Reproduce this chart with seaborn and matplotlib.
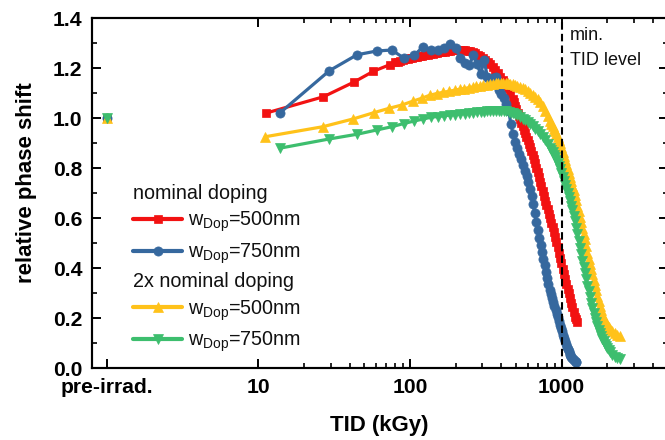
import matplotlib
matplotlib.use("Agg")
import matplotlib.pyplot as plt
import seaborn as sns
from matplotlib.lines import Line2D
from matplotlib.ticker import FixedLocator, NullFormatter

# ---------------------------------------------------------------- data
# relative phase shift vs. total ionising dose (kGy); pre-irradiation value at x = 1
pre_x = 1.0
pre_y = 1.0

# nominal doping, w_Dop = 500 nm
nom500_x = [11.3, 26.9, 42.5, 57.5, 73.5,
            80, 83, 86, 90, 93, 97, 100, 104, 108, 112, 117, 121, 126, 131, 136,
            141, 147, 152, 158, 164, 171, 177, 184, 191, 199, 207, 215, 223, 232,
            241, 250, 260, 270, 280, 291, 302, 314, 326, 338, 351, 365, 379, 394,
            409, 425, 441, 458,
            476, 485, 494, 503, 513, 523, 533, 543, 554, 564, 575, 586, 597, 608,
            620, 632, 644, 656, 669, 682, 695, 708, 722, 736, 750, 764, 779, 794,
            809, 824, 840, 856, 872, 889, 906, 923, 941, 959, 977, 996, 1015, 1034,
            1054, 1074, 1095, 1116, 1137, 1159, 1181, 1204, 1227, 1245, 1262]
nom500_y = [1.020, 1.085, 1.143, 1.187, 1.213,
            1.223, 1.226, 1.230, 1.232, 1.235, 1.238, 1.240, 1.242, 1.244, 1.246,
            1.248, 1.250, 1.252, 1.254, 1.256, 1.258, 1.259, 1.261, 1.263, 1.265,
            1.266, 1.268, 1.269, 1.271, 1.272, 1.273, 1.273, 1.273, 1.272, 1.270,
            1.267, 1.264, 1.260, 1.254, 1.248, 1.241, 1.234, 1.226, 1.217, 1.205,
            1.192, 1.179, 1.165, 1.152, 1.138, 1.120, 1.100,
            1.076, 1.063, 1.050, 1.036, 1.022, 1.008, 0.995, 0.981, 0.967, 0.953,
            0.940, 0.926, 0.912, 0.898, 0.884, 0.869, 0.853, 0.837, 0.820, 0.802,
            0.783, 0.764, 0.745, 0.727, 0.708, 0.689, 0.670, 0.652, 0.635, 0.618,
            0.600, 0.582, 0.563, 0.544, 0.525, 0.504, 0.483, 0.461, 0.440, 0.419,
            0.398, 0.376, 0.355, 0.336, 0.318, 0.299, 0.280, 0.261, 0.243, 0.224,
            0.205, 0.195, 0.185]

# nominal doping, w_Dop = 750 nm
nom750_x = [13.8, 29.4, 44.8, 60.5, 76,
            91.5, 107, 122.5, 138, 153.5, 169, 184.5, 200, 215.5, 231, 246.5, 262,
            277.5, 293, 308.5, 324, 339.5, 355, 370.5, 386, 401.5, 417, 432.5, 448,
            463.5, 479, 494.5, 510, 525.5, 541, 556.5, 572, 587.5, 603, 618.5, 634,
            649.5, 665, 680.5, 696, 711.5, 727, 742.5, 758, 773.5, 789, 804.5, 820,
            835.5, 851, 866.5, 882, 897.5, 913, 928.5, 944, 959.5, 975, 990.5, 1006,
            1021.5, 1037, 1052.5, 1068, 1083.5, 1099, 1114.5, 1130, 1145.5, 1161,
            1176.5, 1192, 1207.5, 1223, 1238.5, 1254]
nom750_y = [1.019, 1.189, 1.253, 1.268, 1.272,
            1.239, 1.252, 1.285, 1.272, 1.272, 1.282, 1.297, 1.279, 1.240, 1.222,
            1.212, 1.252, 1.215, 1.175, 1.232, 1.165, 1.150, 1.160, 1.165, 1.112,
            1.095, 1.080, 1.055, 1.030,
            0.975, 0.935, 0.905, 0.880, 0.858, 0.835, 0.812, 0.790, 0.768, 0.745,
            0.718, 0.690, 0.655, 0.620, 0.585, 0.553, 0.522, 0.494, 0.466, 0.438,
            0.412, 0.386, 0.360, 0.335, 0.312, 0.295, 0.280, 0.265, 0.248, 0.233,
            0.218, 0.203, 0.188, 0.174, 0.160, 0.147, 0.133, 0.120, 0.108, 0.097,
            0.086, 0.076, 0.067, 0.058, 0.051, 0.045, 0.040, 0.036, 0.032, 0.029,
            0.026, 0.024]

# 2x nominal doping, w_Dop = 500 nm
dbl500_x = [11.1, 26.6, 42.1, 57.6, 73.1, 88.6, 104.1, 119.6, 135.1, 150.6, 166.1,
            181.6, 197.1, 212.6, 228.1, 243.6, 259.1, 274.6, 290.1, 305.6, 321.1,
            336.6, 352.1, 367.6, 383.1, 398.6, 414.1, 429.6, 445.1, 460.6, 476.1,
            491.6, 507.1,
            533, 554, 575, 597, 620, 644, 669, 695, 722, 750, 779, 809,
            840, 856, 872, 889, 906, 923, 941, 959, 977, 996, 1015, 1034, 1054,
            1074, 1095, 1116, 1137, 1159, 1181, 1204, 1227, 1250, 1274, 1298, 1323,
            1348, 1374, 1400, 1427, 1454, 1482, 1510, 1539, 1569, 1599, 1630, 1661,
            1693, 1725, 1758, 1792, 1826, 1861, 1897, 1933, 1970, 2008, 2046, 2085,
            2166, 2250, 2337, 2430]
dbl500_y = [0.925, 0.965, 0.996, 1.021, 1.039,
            1.052, 1.067, 1.079, 1.091, 1.098, 1.103, 1.107, 1.111, 1.115, 1.118,
            1.121, 1.124, 1.127, 1.129, 1.131, 1.133, 1.135, 1.137, 1.139, 1.140,
            1.141, 1.142, 1.141, 1.140, 1.138, 1.136, 1.133, 1.130,
            1.125, 1.120, 1.115, 1.109, 1.101, 1.093, 1.084, 1.075, 1.066, 1.050,
            1.030, 1.010,
            0.988, 0.978, 0.968, 0.958, 0.948, 0.937, 0.925, 0.912, 0.899, 0.883,
            0.866, 0.849, 0.832, 0.815, 0.798, 0.782, 0.765, 0.748, 0.730, 0.711,
            0.692, 0.671, 0.650, 0.628, 0.605, 0.583, 0.560, 0.538, 0.515, 0.489,
            0.462, 0.438, 0.415, 0.395, 0.375, 0.353, 0.332, 0.311, 0.290, 0.270,
            0.250, 0.231, 0.213, 0.201, 0.190, 0.180, 0.170, 0.163, 0.156,
            0.148, 0.140, 0.134, 0.128]

# 2x nominal doping, w_Dop = 750 nm
dbl750_x = [13.8, 29.3, 44.8, 60.3, 75.8, 91.3, 106.8, 122.3, 137.8, 153.3, 168.8,
            184.3, 199.8, 215.3, 230.8, 246.3, 261.8, 277.3, 292.8, 308.3, 323.8,
            339.3, 354.8, 370.3, 385.8, 401.3, 416.8, 432.3, 447.8, 463.3, 478.8,
            494.3, 509.8,
            533, 554, 575, 597, 620, 644, 669, 695, 722, 750, 779, 809,
            840, 856, 872, 889, 906, 923, 941, 959, 977, 996, 1015, 1034, 1054,
            1074, 1095, 1116, 1137, 1159, 1181, 1204, 1227, 1250, 1274, 1298, 1323,
            1348, 1374, 1400, 1427, 1454, 1482, 1510, 1539, 1569, 1599, 1630, 1661,
            1693, 1725, 1758, 1792, 1826, 1861, 1897, 1933, 1970, 2008, 2046, 2085,
            2166, 2250, 2337, 2430]
dbl750_y = [0.879, 0.916, 0.935, 0.952, 0.965,
            0.978, 0.988, 0.996, 1.003, 1.006, 1.009, 1.012, 1.014, 1.016, 1.018,
            1.020, 1.022, 1.024, 1.025, 1.026, 1.027, 1.028, 1.029, 1.029, 1.030,
            1.030, 1.029, 1.027, 1.025, 1.022, 1.019, 1.015, 1.011,
            1.004, 0.998, 0.992, 0.985, 0.977, 0.967, 0.958, 0.948, 0.937, 0.925,
            0.912, 0.898,
            0.882, 0.873, 0.864, 0.854, 0.843, 0.832, 0.820, 0.808, 0.795, 0.780,
            0.765, 0.749, 0.733, 0.717, 0.700, 0.684, 0.668, 0.650, 0.632, 0.610,
            0.588, 0.562, 0.535, 0.508, 0.482, 0.456, 0.430, 0.405, 0.380, 0.355,
            0.330, 0.307, 0.285, 0.262, 0.240, 0.220, 0.200, 0.184, 0.168, 0.154,
            0.140, 0.128, 0.117, 0.107, 0.098, 0.089, 0.080, 0.072, 0.065,
            0.054, 0.046, 0.040, 0.036]

x_major = [1, 10, 100, 1000]
x_major_labels = ["pre-irrad.", "10", "100", "1000"]
x_minor = [20, 30, 40, 50, 60, 70, 80, 90,
           200, 300, 400, 500, 600, 700, 800, 900,
           2000, 3000, 4000]
y_major = [0.0, 0.2, 0.4, 0.6, 0.8, 1.0, 1.2, 1.4]
y_minor = [0.1, 0.3, 0.5, 0.7, 0.9, 1.1, 1.3]

label_500 = r"w$_{\mathrm{Dop}}$=500nm"
label_750 = r"w$_{\mathrm{Dop}}$=750nm"

# ---------------------------------------------------------------- style
sns.set_theme(style="ticks")
plt.rcParams["font.family"] = ["Liberation Sans", "DejaVu Sans"]
plt.rcParams["mathtext.fontset"] = "custom"
plt.rcParams["mathtext.rm"] = "Liberation Sans"
plt.rcParams["mathtext.it"] = "Liberation Sans:italic"
plt.rcParams["mathtext.bf"] = "Liberation Sans:bold"

RED = "#F21212"
BLUE = "#36689E"
GOLD = "#FFC21A"
GREEN = "#3DBE6E"

series = [
    (nom500_x, nom500_y, RED, "s", 6.0),
    (nom750_x, nom750_y, BLUE, "o", 6.6),
    (dbl500_x, dbl500_y, GOLD, "^", 7.6),
    (dbl750_x, dbl750_y, GREEN, "v", 7.6),
]

fig = plt.figure(figsize=(6.65, 4.4), dpi=100)
ax = fig.add_axes([92 / 665, 72 / 440, 575.5 / 665, 350 / 440])

for xs, ys, col, mk, ms in series:
    sns.lineplot(x=xs, y=ys, ax=ax, color=col, marker=mk, markersize=ms,
                 markeredgecolor=col, markeredgewidth=0.5, linewidth=2.3,
                 estimator=None, sort=False, legend=False, zorder=2)

# pre-irradiation reference points (not joined to the dose series)
for xs, ys, col, mk, ms in series:
    sns.lineplot(x=[pre_x], y=[pre_y], ax=ax, color=col, marker=mk, markersize=ms,
                 markeredgecolor=col, markeredgewidth=0.5, linewidth=0,
                 estimator=None, legend=False, zorder=2)

# minimum required TID level
ax.axvline(1000, color="black", lw=1.5, ls=(0, (3.6, 2.0)), zorder=4)
ax.text(1140, 1.332, "min.", fontsize=13, ha="left", va="center", color="#111111")
ax.text(1140, 1.230, "TID level", fontsize=13, ha="left", va="center", color="#111111")

# axes, scales, ticks
ax.set_xscale("log")
ax.set_xlim(0.8, 5000)
ax.set_ylim(0.0, 1.4)
ax.xaxis.set_major_locator(FixedLocator(x_major))
ax.xaxis.set_minor_locator(FixedLocator(x_minor))
ax.xaxis.set_minor_formatter(NullFormatter())
ax.set_xticklabels(x_major_labels)
ax.set_yticks(y_major)
ax.set_yticks(y_minor, minor=True)
ax.set_yticklabels([f"{v:.1f}" for v in y_major])

for sp in ax.spines.values():
    sp.set_linewidth(1.5)
    sp.set_color("black")

ax.tick_params(axis="both", which="major", direction="in", length=6.5, width=1.4,
               color="black", labelsize=15.2, labelcolor="black")
ax.tick_params(axis="both", which="minor", direction="in", length=3.6, width=1.2,
               color="black")
ax.tick_params(axis="x", which="both", pad=7.5, top=False)
ax.tick_params(axis="y", which="both", pad=7, right=True)
for lbl in ax.get_xticklabels() + ax.get_yticklabels():
    lbl.set_fontweight("bold")

# top spine ticks (decades only, no pre-irrad. tick)
ax_top = ax.twiny()
ax_top.set_xscale("log")
ax_top.set_xlim(ax.get_xlim())
ax_top.xaxis.set_major_locator(FixedLocator([10, 100, 1000]))
ax_top.xaxis.set_minor_locator(FixedLocator(x_minor))
ax_top.xaxis.set_major_formatter(NullFormatter())
ax_top.xaxis.set_minor_formatter(NullFormatter())
ax_top.tick_params(axis="x", which="major", direction="in", length=6.5, width=1.4,
                   color="black")
ax_top.tick_params(axis="x", which="minor", direction="in", length=3.6, width=1.2,
                   color="black")
for sp in ax_top.spines.values():
    sp.set_linewidth(1.5)
    sp.set_color("black")

ax.set_xlabel("TID (kGy)", fontsize=16, fontweight="bold", color="black")
ax.set_ylabel("relative phase shift", fontsize=16, fontweight="bold", color="black")
ax.xaxis.set_label_coords(0.5, -0.134)
ax.yaxis.set_label_coords(-0.0956, 0.53)

# legends: one block per doping level
def handle(col, mk, ms):
    return Line2D([], [], color=col, marker=mk, markersize=ms, markeredgecolor=col,
                  markeredgewidth=0.5, linewidth=3.0)

leg_kw = dict(loc="upper left", frameon=False, fontsize=14.2, title_fontsize=14.2,
              alignment="left", handlelength=2.5, handletextpad=0.3,
              labelspacing=0.35, borderpad=0, borderaxespad=0, numpoints=1)

leg1 = ax.legend([handle(RED, "s", 6.0), handle(BLUE, "o", 6.6)],
                 [label_500, label_750], title="nominal doping",
                 bbox_to_anchor=(0.0712, 0.526), **leg_kw)
ax.add_artist(leg1)
leg2 = ax.legend([handle(GOLD, "^", 7.6), handle(GREEN, "v", 7.6)],
                 [label_500, label_750], title="2x nominal doping",
                 bbox_to_anchor=(0.0712, 0.274), **leg_kw)
for lg in (leg1, leg2):
    lg.get_title().set_color("#111111")
    for t in lg.get_texts():
        t.set_color("#111111")

fig.savefig("out.png", dpi=100)
